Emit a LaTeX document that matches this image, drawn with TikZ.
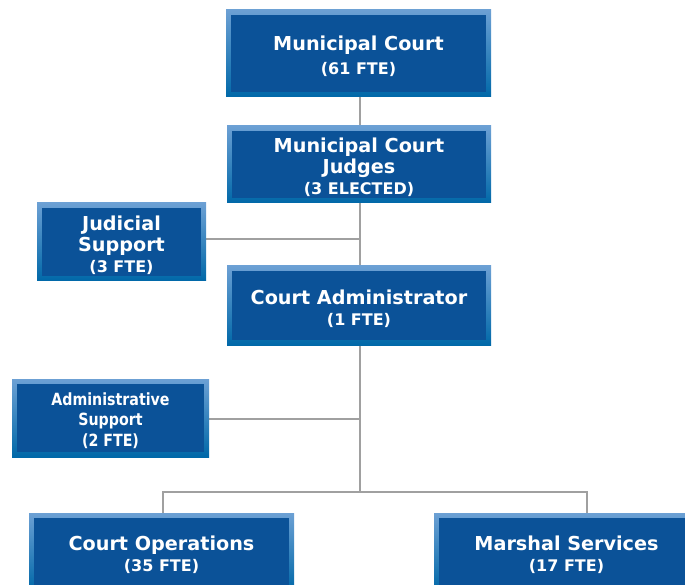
\documentclass[tikz,border=0pt]{standalone}
\usepackage{fontspec}
\setmainfont{DejaVu Sans}
\newfontfamily\narrowfont{DejaVu Sans Condensed}[FakeStretch=0.94]
\usetikzlibrary{backgrounds}
\definecolor{frametop}{RGB}{108,160,212}
\definecolor{framebot}{RGB}{0,104,168}
\definecolor{boxfill}{RGB}{11,82,152}
\definecolor{linkgray}{RGB}{160,160,160}
\newcommand{\orgtitle}{\fontsize{19.2}{21}\selectfont}
\newcommand{\orgsub}{\fontsize{16}{21.5}\selectfont}
\newcommand{\orgnarrow}{\narrowfont\bfseries\fontsize{16.8}{20.5}\selectfont}
% taller first line pushes the text block a little below the box centre
\newcommand{\titlepad}{\rule{0pt}{20.5pt}}
\newcommand{\narrowpad}{\rule{0pt}{17.5pt}}
\tikzset{
  orgbox/.style={rectangle, top color=frametop, bottom color=framebot,
    text=white, font=\bfseries\orgtitle, align=center, inner sep=0pt,
    path picture={\fill[boxfill]
      ([shift={(5pt,-5pt)}]path picture bounding box.north west) rectangle
      ([shift={(-5pt,5pt)}]path picture bounding box.south east);}},
  link/.style={draw=linkgray, line width=2.5pt}
}
\begin{document}
\begin{tikzpicture}[x=1pt,y=-1pt]
\useasboundingbox (0,0) rectangle (685,585);
\node[orgbox, minimum width=265pt, minimum height=87pt] (mc) at (358.5,53.5)
  {\titlepad Municipal Court\\[3pt]{\orgsub(61 FTE)}};
\node[orgbox, minimum width=264pt, minimum height=77pt] (judges) at (359,164.5)
  {\titlepad Municipal Court\\Judges\\{\orgsub(3 ELECTED)}};
\node[orgbox, minimum width=169pt, minimum height=78pt] (judsup) at (121.5,242)
  {\titlepad Judicial\\Support\\{\orgsub(3 FTE)}};
\node[orgbox, minimum width=264pt, minimum height=79pt] (admin) at (359,305.5)
  {\titlepad Court Administrator\\{\orgsub(1 FTE)}};
\node[orgbox, minimum width=197pt, minimum height=78pt, font=\orgnarrow] (admsup) at (110.5,418)
  {\narrowpad Administrative\\Support\\(2 FTE)};
\node[orgbox, minimum width=265pt, minimum height=78pt] (ops) at (161.5,552)
  {\titlepad Court Operations\\{\orgsub(35 FTE)}};
\node[orgbox, minimum width=265pt, minimum height=78pt] (marshal) at (566.5,552)
  {\titlepad Marshal Services\\{\orgsub(17 FTE)}};
% connectors, drawn behind the boxes
\coordinate (bus) at (360,492);
\coordinate (mtop) at ([xshift=20.5pt]marshal.north);
\begin{scope}[on background layer]
  \draw[link] ([xshift=1.5pt]mc.south) -- ([xshift=1pt]judges.north);
  \draw[link] ([xshift=1pt]judges.south) -- ([xshift=1pt]admin.north);
  \draw[link] ([xshift=1pt]admin.south) -- (bus);
  \draw[link] ([yshift=3pt]judsup.east) -- ([yshift=3pt]judsup.east -| bus);
  \draw[link] ([yshift=-1pt]admsup.east) -- ([yshift=-1pt]admsup.east -| bus);
  \draw[link] ([xshift=1.5pt]ops.north) |- (bus) -| (mtop);
\end{scope}
\end{tikzpicture}
\end{document}
